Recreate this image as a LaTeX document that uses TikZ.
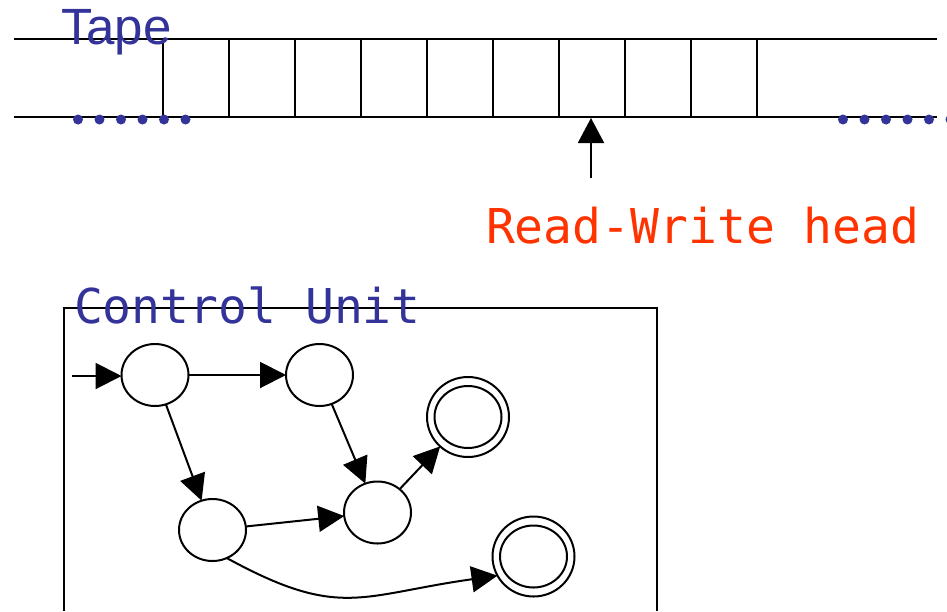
\documentclass[tikz,border=0pt]{standalone}
\usepackage{fontspec}
\setmainfont{Liberation Sans}
\newfontfamily\cumono{DejaVu Sans Mono}
\usetikzlibrary{arrows.meta,shapes.geometric}
\definecolor{tapeblue}{RGB}{51,51,153}
\definecolor{headred}{RGB}{255,51,0}
\begin{document}
\begin{tikzpicture}[x=1pt,y=-1pt,line width=2pt,
  state/.style={ellipse,draw,minimum width=67pt,minimum height=62pt,inner sep=0pt,outer sep=0pt},
  outerring/.style={ellipse,draw,minimum width=82pt,minimum height=80pt,inner sep=0pt,outer sep=0pt},
  trans/.style={-{Triangle[length=26pt,width=26pt]}},
  bluelabel/.style={text=tapeblue,inner sep=0pt,anchor=base west,font=\fontsize{51}{60}\selectfont},
  redlabel/.style={text=headred,inner sep=0pt,anchor=base west,font=\cumono\fontsize{48}{58}\selectfont},
  dotstyle/.style={fill=tapeblue,draw=none}]
\useasboundingbox (0,0) rectangle (947,611);
% tape
\draw (14,39) -- (937,39);
\draw (14,117) -- (937,117);
\foreach \x in {163,229,295,361,427,493,559,625,691,757}
  \draw (\x,39) -- (\x,117);
\foreach \x in {78,99.5,121,142.5,164,185.5}
  \fill[dotstyle] (\x,119.5) circle[radius=5];
\foreach \x in {843,864.5,886,907.5,929,950.5}
  \fill[dotstyle] (\x,119.5) circle[radius=5];
\node[bluelabel] (tapelabel) at (60,44) {Tape};
% head
\coordinate (headtail) at (591,178);
\coordinate (headtip) at (591,118);
\draw[-{Triangle[length=25pt,width=26pt]}] (headtail) -- (headtip);
\node[redlabel] (headlabel) at (485,243) {Read-Write head};
% control unit box
\draw (64,611) -- (64,308) -- (657,308) -- (657,611);
\node[bluelabel,font=\cumono\fontsize{48}{58}\selectfont] (culabel) at (73,323) {Control Unit};
% states
\node[state] (s1) at (155,375) {};
\node[state] (s2) at (319.5,375) {};
\node[state] (s3) at (212.5,530) {};
\node[state] (s4) at (377.5,512.5) {};
\node[state] (d1) at (468,417) {};
\node[outerring] (d1o) at (468,417) {};
\node[state] (d2) at (533.5,556.5) {};
\node[outerring] (d2o) at (533.5,556.5) {};
\coordinate (init) at (72,376);
\draw[trans] (init) -- (init -| s1.west);
\draw[trans] (s1) -- (s2);
\draw[trans] (s1) -- (s3);
\draw[trans] (s2) -- (s4);
\draw[trans] (s3) -- (s4);
\draw[trans] (s4) -- (d1o);
\draw[trans] (s3.-63) .. controls (340,620) and (360,595) .. (d2o.208);
\end{tikzpicture}
\end{document}
